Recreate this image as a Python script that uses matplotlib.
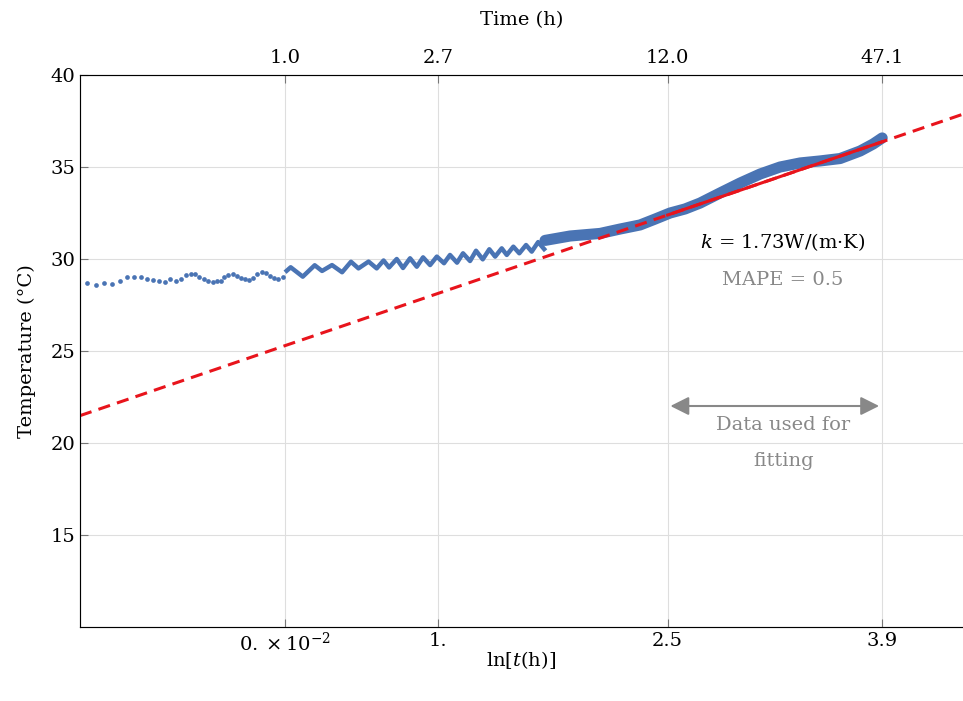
import matplotlib
matplotlib.use("Agg")
import matplotlib.pyplot as plt

# early, sparse samples (ln t, temperature)
early_x = [-1.296, -1.237, -1.183, -1.129, -1.078, -1.031, -0.987, -0.943, -0.900, -0.861,
           -0.824, -0.784, -0.752, -0.714, -0.682, -0.647, -0.616, -0.588, -0.560, -0.529,
           -0.501, -0.473, -0.442, -0.420, -0.399, -0.371, -0.342, -0.316, -0.290, -0.261,
           -0.235, -0.207, -0.181, -0.152, -0.124, -0.098, -0.072, -0.044, -0.015]
early_y = [28.71, 28.59, 28.71, 28.66, 28.79, 29.04, 29.01, 29.04, 28.93, 28.84,
           28.82, 28.73, 28.90, 28.79, 28.93, 29.11, 29.17, 29.17, 29.04, 28.90,
           28.79, 28.75, 28.79, 28.79, 29.04, 29.15, 29.17, 29.08, 28.98, 28.93,
           28.86, 28.98, 29.17, 29.28, 29.22, 29.08, 28.97, 28.93, 29.04]

# oscillating part (peaks / troughs)
mid_x = [0.011, 0.037, 0.116, 0.194, 0.242, 0.307, 0.373, 0.431, 0.480, 0.546,
         0.599, 0.644, 0.680, 0.730, 0.771, 0.817, 0.861, 0.902, 0.948, 0.992,
         1.039, 1.078, 1.124, 1.163, 1.209, 1.248, 1.292, 1.335, 1.373, 1.416,
         1.449, 1.492, 1.531, 1.575, 1.612, 1.654, 1.693]
mid_y = [29.36, 29.55, 29.04, 29.66, 29.35, 29.67, 29.28, 29.85, 29.49, 29.86,
         29.49, 29.92, 29.54, 30.00, 29.51, 30.04, 29.58, 30.09, 29.67, 30.13,
         29.77, 30.22, 29.80, 30.31, 29.89, 30.45, 29.98, 30.53, 30.13, 30.58,
         30.22, 30.67, 30.31, 30.76, 30.40, 30.92, 30.54]

# late, dense part (band centre)
late_x = [1.699, 1.863, 2.059, 2.190, 2.320, 2.418, 2.516, 2.614, 2.712, 2.843,
          2.974, 3.105, 3.235, 3.366, 3.497, 3.627, 3.758, 3.843, 3.902]
late_y = [31.01, 31.25, 31.39, 31.63, 31.85, 32.17, 32.50, 32.72, 33.04, 33.59,
          34.13, 34.62, 35.00, 35.22, 35.33, 35.46, 35.87, 36.25, 36.58]

# linear fit T = a + b ln t
fit_a = 25.29
fit_b = 2.84
fit_range = [2.5, 3.9]
full_range = [-1.34, 4.43]

bottom_ticks = [0, 1, 2.5, 3.9]
bottom_labels = [r"$0.\times10^{-2}$", "1.", "2.5", "3.9"]
top_labels = ["1.0", "2.7", "12.0", "47.1"]
y_ticks = [15, 20, 25, 30, 35, 40]

plt.rcParams['font.family'] = ['DejaVu Serif']
plt.rcParams['mathtext.fontset'] = 'dejavuserif'

blue = '#4a74b4'
red = '#e8141c'
gray = '#888888'

fig = plt.figure(figsize=(9.63, 7.01), dpi=100)
ax = fig.add_axes([0.083, 0.1056, 0.917, 0.7874])

ax.plot(early_x, early_y, 'o', color=blue, ms=3.4, mew=0)
ax.plot(mid_x, mid_y, '-', color=blue, lw=3.2)
ax.plot(late_x, late_y, '-', color=blue, lw=8, solid_capstyle='round')

ax.plot(full_range, [fit_a + fit_b * v for v in full_range], '--', color=red, lw=2.2,
        dashes=(4, 2.4))
ax.plot(fit_range, [fit_a + fit_b * v for v in fit_range], '-', color=red, lw=2.2)

ax.set_xlim(full_range)
ax.set_ylim(10, 40)
ax.set_xticks(bottom_ticks)
ax.set_xticklabels(bottom_labels)
ax.set_yticks(y_ticks)
ax.grid(True, color='#dedede', lw=0.8)
ax.set_axisbelow(True)
ax.tick_params(direction='in', length=6, labelsize=14, color='#777777')
for s in ['left', 'bottom', 'top']:
    ax.spines[s].set_color('#777777')
ax.spines['right'].set_visible(False)

ax.set_xlabel(r"ln[$t$(h)]", fontsize=14, labelpad=-4)
ax.set_ylabel("Temperature (°C)", fontsize=14, labelpad=10)

top = ax.twiny()
top.set_xlim(full_range)
top.set_xticks(bottom_ticks)
top.set_xticklabels(top_labels)
top.tick_params(direction='in', length=6, labelsize=14, color='#777777', pad=6)
top.spines['right'].set_visible(False)
top.set_xlabel("Time (h)", fontsize=14, labelpad=17)

ax.text(3.255, 30.92, r"$k$ = 1.73W/(m·K)", fontsize=14, ha='center', va='center')
ax.text(3.255, 28.86, "MAPE = 0.5", fontsize=14, ha='center', va='center', color=gray)
ax.annotate('', xy=(3.9, 22.01), xytext=(2.5, 22.01),
            arrowprops=dict(arrowstyle='<|-|>', color=gray, lw=1.5, mutation_scale=28))
ax.text(3.255, 20.98, "Data used for", fontsize=14, ha='center', va='center', color=gray)
ax.text(3.255, 19.02, "fitting", fontsize=14, ha='center', va='center', color=gray)

fig.savefig("out.png", dpi=100)
